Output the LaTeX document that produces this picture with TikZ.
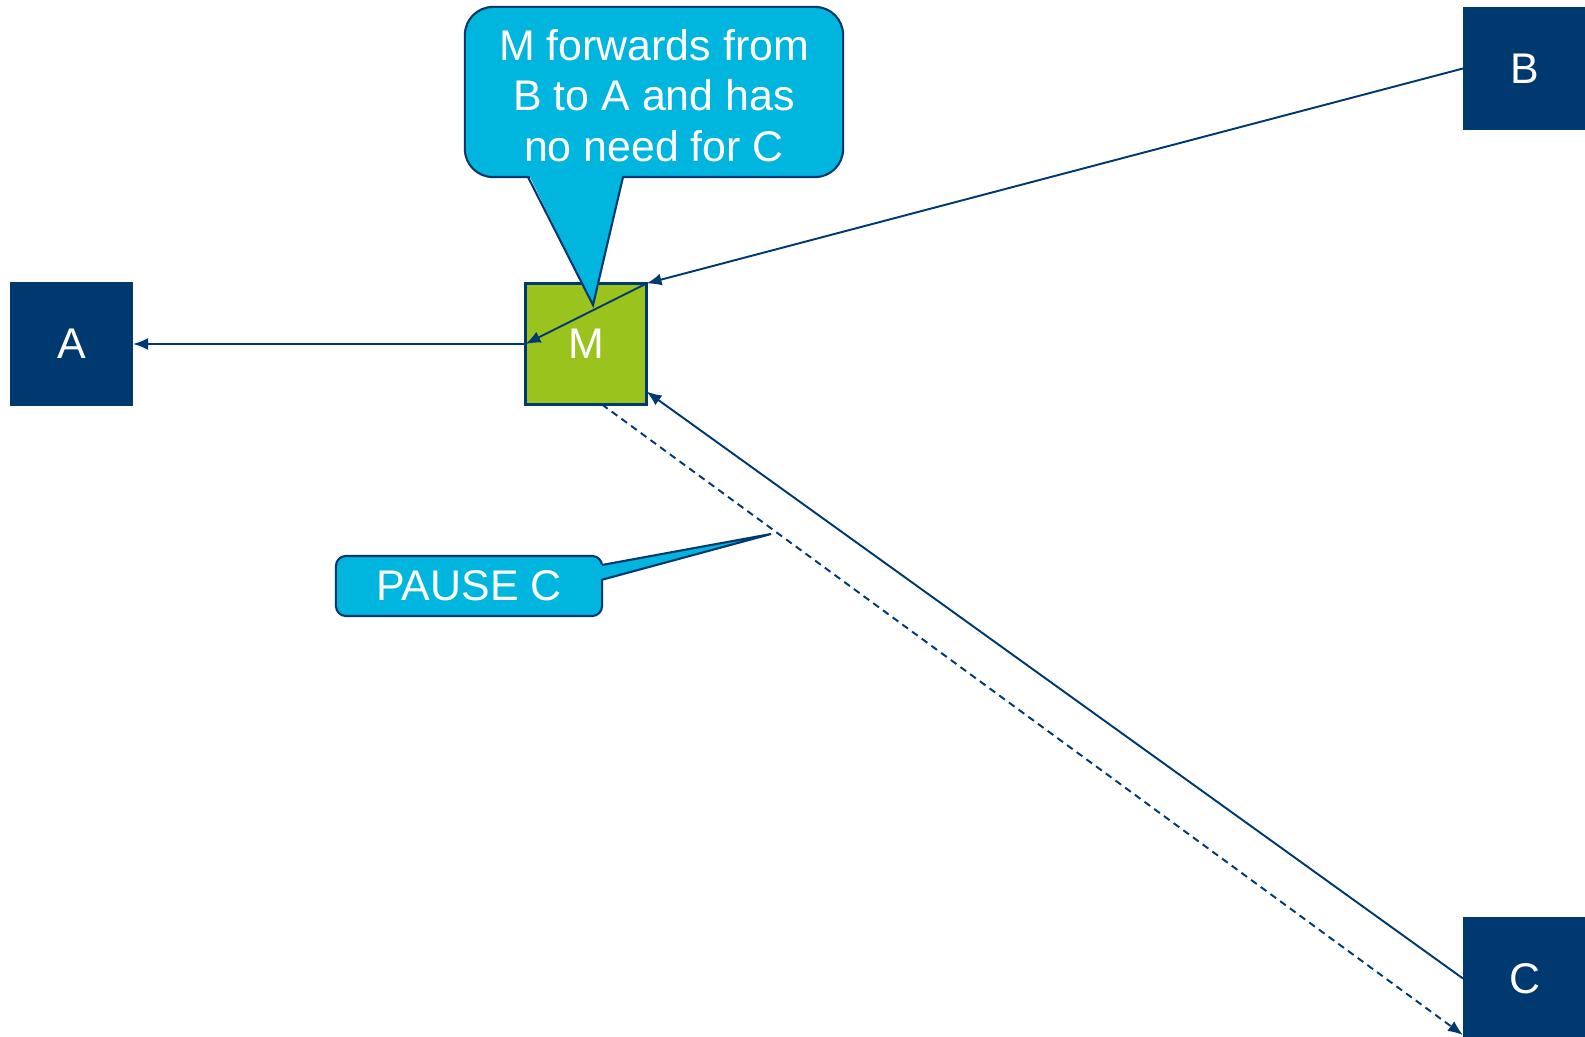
\documentclass[tikz,border=0pt]{standalone}
\usepackage{fontspec}
\setmainfont{Liberation Sans}
\usetikzlibrary{calc,arrows.meta}
\definecolor{navy}{RGB}{0,56,112}
\definecolor{sky}{RGB}{0,182,222}
\definecolor{leaf}{RGB}{155,195,29}
\tikzset{
    host/.style = {
        fill=navy, rectangle, align=center,
        outer sep=0,
        inner sep=0,
        minimum width={1.23cm},
        minimum height={1.23cm},
        text=white, font=\fontsize{12.2}{14.3}\selectfont
    },
    relay/.style = {
        host, fill=leaf, draw=navy, line width=0.6pt,
        minimum width={1.21cm},
        minimum height={1.21cm}
    },
    note/.style = {
        fill=sky, draw=navy, line width=0.6pt, rectangle, align=center,
        outer sep=0,
        inner sep=0,
        text=white, font=\fontsize{12.2}{14.3}\selectfont
    },
    link/.style = {draw=navy, line width=0.55pt, -{Latex[length=0.15cm,width=0.12cm]}}
}

\begin{document}
\begin{tikzpicture}[x=0.01cm,y=-0.01cm]
\useasboundingbox (0,0) rectangle (1585,1037);

% 1. boxes
\node[host]  (A) at (71.5,344)    {A};
\node[host]  (B) at (1524.5,68.5) {B};
\node[host]  (C) at (1524.5,978.5) {C};
\node[relay] (M) at (586,344)     {M};

% 2. callouts -- tail drawn over the box border
\node[note,rounded corners=0.28cm,minimum width=3.78cm,minimum height=1.7cm] (note1) at (654,92)
  {\rule{0pt}{0.38cm}M forwards from\\ B to A and has\\ no need for C};
\fill[sky] (528,173) -- (593,305) -- (623,173) -- cycle;
\draw[navy,line width=0.6pt] (528,177) -- (593,305) -- (623,177);

\node[note,rounded corners=0.1cm,minimum width=2.66cm,minimum height=0.6cm] (note2) at (469,586) {PAUSE C};
\fill[sky] (598,565) -- (771,534) -- (598,580) -- cycle;
\draw[navy,line width=0.6pt] (602,565) -- (771,534) -- (601,580);

% 3. arrows
\draw[link] (M.west) -- (A.east);
\draw[link] (B.west) -- (M.north east);
\draw[link] (M.north east) -- (M.west);
\draw[link] (C.west) -- ([yshift=0.13cm]M.south east);
\draw[link,dash pattern=on 0.07cm off 0.05cm] ([xshift=0.16cm]M.south) -- ([yshift=0.05cm]C.south west);

\end{tikzpicture}
\end{document}
